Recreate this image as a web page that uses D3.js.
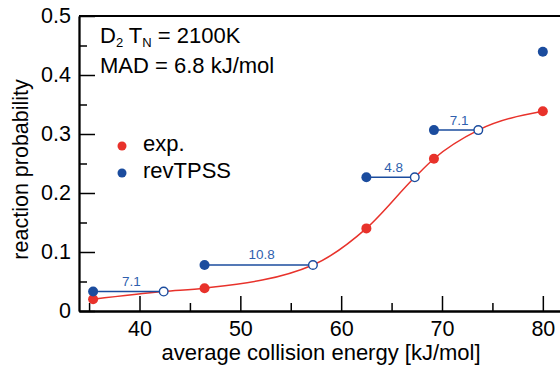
<!DOCTYPE html>
<html>
<head>
<meta charset="utf-8">
<script src="https://cdn.jsdelivr.net/npm/d3@7"></script>
<style>
  body { margin: 0; background: #fff; }
  svg { display: block; }
  text { font-family: "Liberation Sans", Arial, Helvetica, sans-serif; }
</style>
</head>
<body>
<div id="chart"></div>
<script>
// measured points (kJ/mol, reaction probability)
const energyExp = [35.4, 46.45, 62.5, 69.2, 80.0];
const probExp = [0.020, 0.0387, 0.140, 0.258, 0.3385];
const energyTPSS = [35.4, 46.45, 62.5, 69.2, 80.0];
const probTPSS = [0.033, 0.078, 0.2266, 0.3066, 0.4395];
// energy at which the exp. fit reaches the revTPSS value (open circles)
const energyShifted = [42.4, 57.2, 67.3, 73.6];
const shiftLabels = ["7.1", "10.8", "4.8", "7.1"];
const xMajor = [40, 50, 60, 70, 80];
const xMinor = [35, 45, 55, 65, 75];
const yMajor = [0, 0.1, 0.2, 0.3, 0.4, 0.5];
const yMinor = [0.05, 0.15, 0.25, 0.35, 0.45];
const legendNames = ["exp.", "revTPSS"];

const W = 560, H = 366;
const margin = { top: 16, right: -3, bottom: 55, left: 79 };
const red = "#e8322b", blue = "#1b4c9e", labelBlue = "#2f5fae";

const svg = d3.select("#chart").append("svg")
    .attr("width", W)
    .attr("height", H);

const x = d3.scaleLinear().domain([34, 82]).range([margin.left, W - margin.right]);
const y = d3.scaleLinear().domain([0, 0.5]).range([H - margin.bottom, margin.top]);

// axes, ticks point inwards
function styleAxis(g) {
    g.selectAll("path.domain").attr("stroke", "#000").attr("stroke-width", 1.8);
    g.selectAll(".tick line").attr("stroke", "#000").attr("stroke-width", 1.5);
    g.selectAll("text").attr("fill", "#000").style("font-size", "21.5px");
}

svg.append("g")
    .attr("transform", `translate(0,${y(0)})`)
    .call(d3.axisBottom(x).tickValues(xMinor).tickSize(-8).tickSizeOuter(0).tickFormat(""))
    .call(styleAxis);
svg.append("g")
    .attr("transform", `translate(0,${y(0)})`)
    .call(d3.axisBottom(x).tickValues(xMajor).tickSize(-15).tickSizeOuter(0).tickPadding(10))
    .call(styleAxis);

svg.append("g")
    .attr("transform", `translate(${x(34)},0)`)
    .call(d3.axisLeft(y).tickValues(yMinor).tickSize(-8).tickSizeOuter(0).tickFormat(""))
    .call(styleAxis);
svg.append("g")
    .attr("transform", `translate(${x(34)},0)`)
    .call(d3.axisLeft(y).tickValues(yMajor).tickSize(-16).tickSizeOuter(0).tickPadding(8)
        .tickFormat(d => d === 0 ? "0" : d3.format(".1f")(d)))
    .call(styleAxis);

// top frame line
svg.append("line")
    .attr("x1", x(34)).attr("x2", x(82))
    .attr("y1", y(0.5)).attr("y2", y(0.5))
    .attr("stroke", "#000").attr("stroke-width", 1.8);

// axis titles
svg.append("text")
    .attr("x", x(58)).attr("y", 360)
    .attr("text-anchor", "middle")
    .style("font-size", "22px")
    .text("average collision energy [kJ/mol]");

svg.append("text")
    .attr("transform", `translate(28,${y(0.24)}) rotate(-90)`)
    .attr("text-anchor", "middle")
    .style("font-size", "21.5px")
    .text("reaction probability");

// red fit curve: through exp points and the open circles that lie on it
const curvePts = energyExp.map((e, i) => [e, probExp[i]])
    .concat(energyShifted.map((e, i) => [e, probTPSS[i]]))
    .sort((a, b) => a[0] - b[0]);

svg.append("path")
    .datum(curvePts)
    .attr("fill", "none")
    .attr("stroke", red)
    .attr("stroke-width", 1.5)
    .attr("d", d3.line().x(d => x(d[0])).y(d => y(d[1])).curve(d3.curveMonotoneX));

// shift segments
const shifts = energyShifted.map((e, i) => ({ from: energyTPSS[i], to: e, p: probTPSS[i], label: shiftLabels[i] }));

svg.selectAll(".shift")
    .data(shifts)
    .enter().append("line")
    .attr("class", "shift")
    .attr("x1", d => x(d.from)).attr("x2", d => x(d.to))
    .attr("y1", d => y(d.p)).attr("y2", d => y(d.p))
    .attr("stroke", blue).attr("stroke-width", 1.5);

svg.selectAll(".shiftLabel")
    .data(shifts)
    .enter().append("text")
    .attr("class", "shiftLabel")
    .attr("x", d => (x(d.from) + x(d.to)) / 2 + 3)
    .attr("y", d => y(d.p) - 5.5)
    .attr("text-anchor", "middle")
    .attr("fill", labelBlue)
    .style("font-size", "13.5px")
    .text(d => d.label);

// dots
svg.selectAll(".exp")
    .data(energyExp)
    .enter().append("circle")
    .attr("cx", d => x(d))
    .attr("cy", (d, i) => y(probExp[i]))
    .attr("r", 5)
    .attr("fill", red);

svg.selectAll(".tpss")
    .data(energyTPSS)
    .enter().append("circle")
    .attr("cx", d => x(d))
    .attr("cy", (d, i) => y(probTPSS[i]))
    .attr("r", 5)
    .attr("fill", blue);

svg.selectAll(".open")
    .data(shifts)
    .enter().append("circle")
    .attr("cx", d => x(d.to))
    .attr("cy", d => y(d.p))
    .attr("r", 4.3)
    .attr("fill", "#fff")
    .attr("stroke", blue)
    .attr("stroke-width", 1.4);

// annotation text
const note = svg.append("text").attr("x", 100).attr("y", 43).style("font-size", "22px");
note.append("tspan").text("D");
note.append("tspan").attr("dy", 4).style("font-size", "13px").text("2");
note.append("tspan").attr("dy", -4).text(" T");
note.append("tspan").attr("dy", 4).style("font-size", "13px").text("N");
note.append("tspan").attr("dy", -4).text(" = 2100K");

svg.append("text")
    .attr("x", 100).attr("y", 73)
    .style("font-size", "22px")
    .text("MAD = 6.8 kJ/mol");

// legend
const legend = svg.selectAll(".legend")
    .data(legendNames)
    .enter().append("g")
    .attr("transform", (d, i) => `translate(122,${146 + i * 27})`);

legend.append("circle")
    .attr("r", 4.5)
    .attr("fill", (d, i) => i === 0 ? red : blue);

legend.append("text")
    .attr("x", 21).attr("y", 5)
    .style("font-size", "22px")
    .text(d => d);
</script>
</body>
</html>
